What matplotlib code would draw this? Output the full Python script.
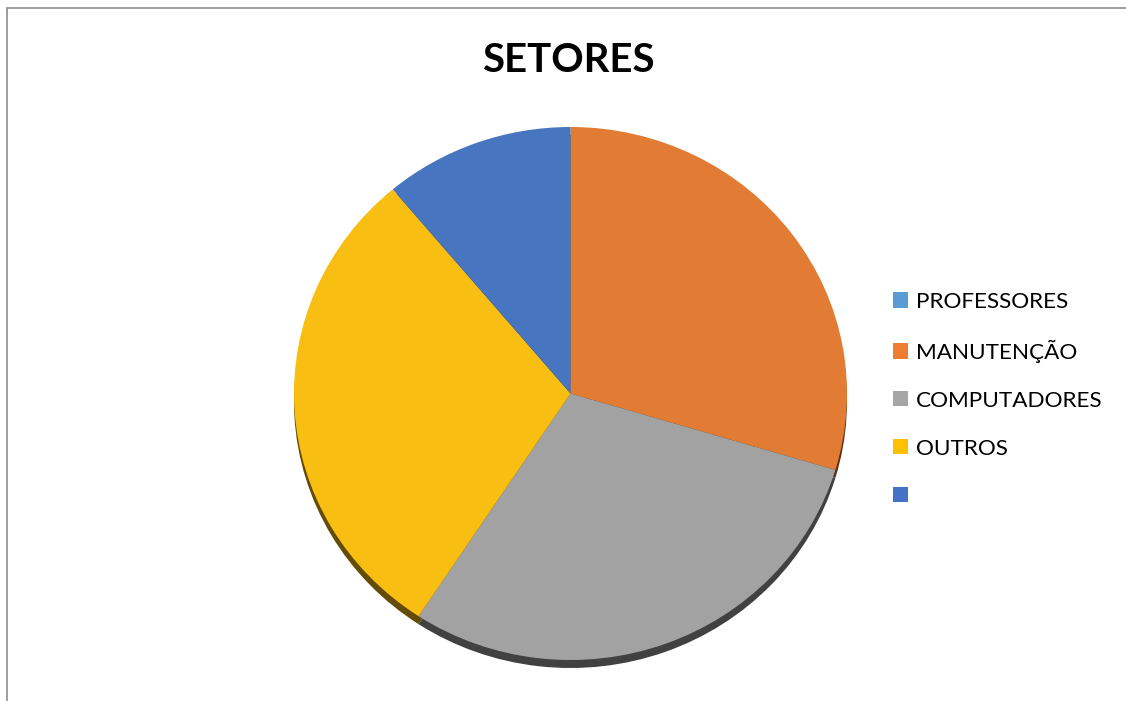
import matplotlib
matplotlib.use("Agg")
import matplotlib.pyplot as plt
from matplotlib.patches import Rectangle, Patch
from matplotlib.colors import to_rgb

categories = ["PROFESSORES", "MANUTENÇÃO", "COMPUTADORES", "OUTROS", ""]
values = [0, 8, 8, 8, 3]
face_colors = ["#5B9BD5", "#E27B34", "#A2A2A2", "#F9BE12", "#4875C0"]
legend_colors = ["#5B9BD5", "#ED7D31", "#A5A5A5", "#FFC000", "#4472C4"]
title = "SETORES"

W, H = 1126, 701
fig = plt.figure(figsize=(W / 100, H / 100), dpi=100)
fig.patch.set_facecolor("white")

# chart border (top and left visible)
fig.patches.append(Rectangle((6.5 / W, -0.1), 2.0, (H - 7.5) / H + 0.1,
                             transform=fig.transFigure, fill=False,
                             edgecolor="#8C8C8C", lw=1.2))

cx, cy, rx, ry = 570.5, 393.5, 276.5, 266.5
ax = fig.add_axes([(cx - rx) / W, (H - cy - ry) / H, 2 * rx / W, 2 * ry / H])

def darken(c, f=0.4):
    r, g, b = to_rgb(c)
    return (r * f, g * f, b * f)

shadow_off = 8.0 / ry
ax.pie(values, colors=[darken(c) for c in face_colors], startangle=90,
       counterclock=False, radius=1.0, center=(0, -shadow_off),
       wedgeprops=dict(linewidth=0))
wedges, _ = ax.pie(values, colors=face_colors, startangle=90,
                   counterclock=False, radius=1.0, center=(0, 0),
                   wedgeprops=dict(linewidth=0))
ax.set_aspect("auto")
ax.set_xlim(-1, 1)
ax.set_ylim(-1, 1)
ax.axis("off")
for a in ax.patches:
    a.set_clip_on(False)

fig.text(568.5 / W, 1 - 61 / H, title, ha="center", va="center",
         fontsize=28.9, fontweight="bold", family="Lato", color="black")

# legend
handles = [Patch(facecolor=c, edgecolor="none") for c in legend_colors]
fs = 16.2
fs_px = fs * 100 / 72
leg = fig.legend(handles, categories, loc="upper left",
                 bbox_to_anchor=(893 / W, 1 - 292 / H), frameon=False,
                 prop=dict(family="Lato", size=fs),
                 handlelength=15 / fs_px, handleheight=15 / fs_px,
                 handletextpad=8 / fs_px, labelspacing=1.235,
                 borderpad=0, borderaxespad=0)

fig.savefig("out.png", dpi=100, facecolor="white")
